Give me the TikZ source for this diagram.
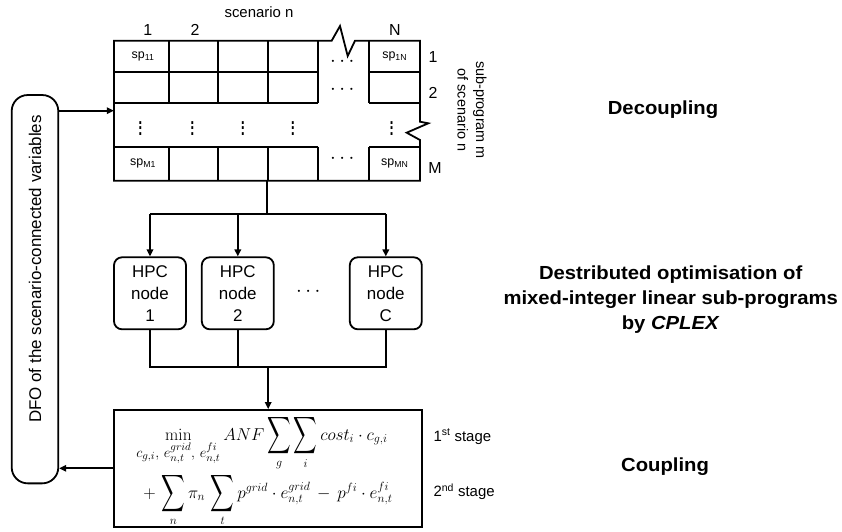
\documentclass[tikz,border=0pt]{standalone}
\usepackage{amsmath}
\usepackage[no-math]{fontspec}
\usepackage{graphicx}
\setmainfont{Liberation Sans}
\usetikzlibrary{arrows.meta}

% tall summation sign with limits below
\newcommand{\bsum}{\mathop{\vcenter{\hbox{\scalebox{0.95}[1.5]{$\displaystyle\sum$}}}}\limits}
% stretched vertical ellipsis
\newcommand{\tallvdots}{\scalebox{1}[1.35]{$\vdots$}}

\begin{document}
\begin{tikzpicture}[x=1bp,y=-1bp,
  line/.style={line width=1.8bp},
  conn/.style={line width=1.8bp},
  arr/.style={conn,-{Triangle[length=7bp,width=6.5bp]}},
  hpc/.style={draw,line width=1.8bp,rounded corners=8bp,minimum width=72bp,
    minimum height=72bp,align=center,inner sep=0pt,
    font=\fontsize{17}{22}\selectfont},
  cell/.style={font=\fontsize{12.5}{14}\selectfont},
  dots/.style={font=\fontsize{20}{22}\selectfont,inner sep=0pt},
  lbl/.style={font=\fontsize{16}{18}\selectfont},
  small/.style={font=\fontsize{15}{18}\selectfont},
  head/.style={font=\bfseries\fontsize{19}{25}\selectfont\addfontfeatures{FakeStretch=1.07},align=center},
  math/.style={font=\fontsize{17}{18}\selectfont,inner sep=0pt}
]
\useasboundingbox (0,0) rectangle (842,532);

% ---------- sub-program table ----------
\node[minimum width=306bp,minimum height=140bp,inner sep=0pt] (grid) at (267,110.7) {};
\draw[line] (114,40.7) -- (331.7,40.7) -- (340,26) -- (347.7,56) -- (355,40.7)
  -- (420,40.7) -- (420,121.7) -- (428.3,123.3) -- (406.7,132.7) -- (420,140)
  -- (420,180.7) -- (114,180.7) -- cycle;
\foreach \x in {169.3,218.3,267.7,318.3,369.3} {
  \draw[line] (\x,40.7) -- (\x,103.3);
  \draw[line] (\x,146.7) -- (\x,180.7);
}
\foreach \y in {71.7,103.3,146.7} {
  \draw[line] (114,\y) -- (318.3,\y);
  \draw[line] (369.3,\y) -- (420,\y);
}

\node[cell] (sp11) at (143,56.2) {sp\textsubscript{11}};
\node[cell] (sp1N) at (394.7,56.2) {sp\textsubscript{1N}};
\node[cell] (spM1) at (143,163.7) {sp\textsubscript{M1}};
\node[cell] (spMN) at (394.7,163.7) {sp\textsubscript{MN}};

\foreach \x [count=\i] in {140.5,192.5,243,293,391.7}
  \node[dots] (vd\i) at (\x,124.5) {\tallvdots};
\node[dots] (hd1) at (344,62) {$\cdots$};
\node[dots] (hd2) at (344,90) {$\cdots$};
\node[dots] (hd3) at (344,159) {$\cdots$};

\node[small] (scen) at (259,12) {scenario n};
\node[lbl] (c1) at (147.7,30) {1};
\node[lbl] (c2) at (195,30) {2};
\node[lbl] (cN) at (395,30) {N};
\node[lbl] (r1) at (433,57) {1};
\node[lbl] (r2) at (433,93) {2};
\node[lbl] (rM) at (435,168) {M};
\node[rotate=-90,align=center,font=\fontsize{14.5}{18.7}\selectfont] (subprog)
  at (472,110) {sub-program m\\of scenario n};

% ---------- DFO loop ----------
\node[draw,line,rounded corners=16bp,minimum width=46.6bp,minimum height=388.3bp,
  inner sep=0pt] (dfo) at (35,289.2) {};
\node[rotate=90,font=\fontsize{17}{18}\selectfont] (dfotext) at (35,269)
  {DFO of the scenario-connected variables};

% ---------- HPC nodes ----------
\node[hpc] (n1) at (150,293.3) {HPC\\node\\1};
\node[hpc] (n2) at (237.8,293.3) {HPC\\node\\2};
\node[hpc] (nC) at (385.8,293.3) {HPC\\node\\C};
\node[dots] (hdn) at (310,292) {$\cdots$};

% ---------- coupling problem ----------
\node[draw,line,minimum width=308.3bp,minimum height=116.7bp,inner sep=0pt]
  (form) at (268.2,468.3) {};
\node[math] (f1) at (262,443)
  {$\displaystyle \min_{\mbox{\fontsize{15}{15}\selectfont$c_{g,i},\, e^{grid}_{n,t},\, e^{fi}_{n,t}$}} ANF \bsum_{g}\bsum_{i} cost_i \cdot c_{g,i}$};
\node[math] (f2) at (268,500)
  {$\displaystyle +\,\bsum_{n} \pi_n\, \bsum_{t} p^{grid}\cdot e^{grid}_{n,t} \,-\, p^{fi}\cdot e^{fi}_{n,t}$};
\node[small,anchor=west] (st1) at (430,436.7) {1\textsuperscript{st} stage};
\node[small,anchor=west] (st2) at (430,491.7) {2\textsuperscript{nd} stage};

% ---------- phase labels ----------
\node[head] (dec) at (663,110) {Decoupling};
\node[head] (dist) at (670.7,300) {Destributed optimisation of\\mixed-integer linear sub-programs\\by \textit{CPLEX}};
\node[head] (coup) at (665,467) {Coupling};

% ---------- connectors ----------
\coordinate (split) at (grid.south |- 0,214);
\coordinate (merge) at (form.north |- 0,366.7);
\draw[arr] (grid.west -| dfo.east) -- (grid.west);
\draw[conn] (grid.south) -- (split);
\draw[conn] (n1.north |- split) -- (nC.north |- split);
\draw[arr] (n1.north |- split) -- (n1.north);
\draw[arr] (n2.north |- split) -- (n2.north);
\draw[arr] (nC.north |- split) -- (nC.north);
\draw[conn] (n1.south) -- (n1.south |- merge) -- (nC.south |- merge) -- (nC.south);
\draw[conn] (n2.south) -- (n2.south |- merge);
\draw[arr] (merge) -- (form.north);
\draw[arr] (form.west) -- (form.west -| dfo.east);
\end{tikzpicture}
\end{document}
